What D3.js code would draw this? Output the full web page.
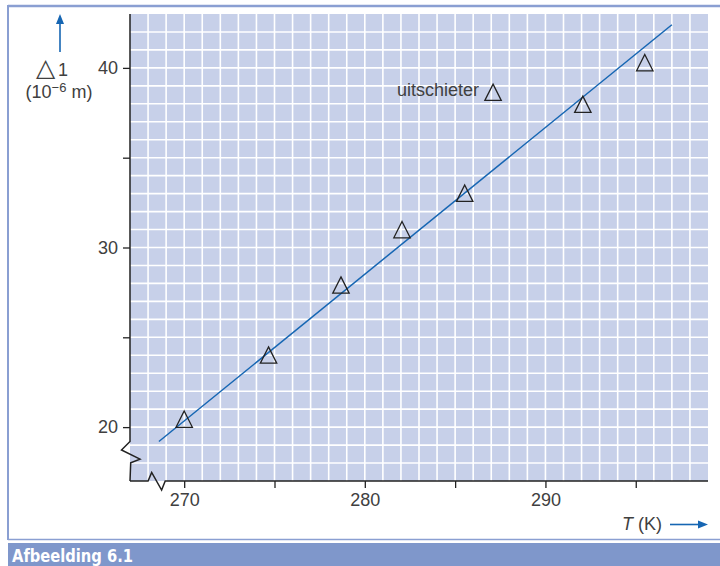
<!DOCTYPE html>
<html>
<head>
<meta charset="utf-8">
<script src="https://cdnjs.cloudflare.com/ajax/libs/d3/7.8.5/d3.min.js"></script>
<style>
  body { margin: 0; background: #fff; }
  text { font-family: "Liberation Sans", Arial, sans-serif; }
</style>
</head>
<body>
<div id="chart"></div>
<script>
// measured points: temperature (K) and length change (10^-6 m)
var temps   = [270.0, 274.67, 278.68, 282.06, 285.53, 292.07, 295.5];
var lengths = [20.3, 23.87, 27.77, 30.85, 32.88, 37.83, 40.15];
// the outlier ("uitschieter")
var outlierT = [287.1];
var outlierL = [38.5];
// fitted straight line, start and end
var fitT = [268.6, 297.0];
var fitL = [19.2, 42.4];
// ticks
var xTicks  = [270, 275, 280, 285, 290, 295];
var xLabels = [270, 280, 290];
var yTicks  = [20, 25, 30, 35, 40];
var yLabels = [20, 30, 40];
var xGrid = d3.range(268, 299, 1);
var yGrid = d3.range(18, 43, 1);

var W = 720, H = 566;
var frameBlue = "#8a9fd2", arrowBlue = "#1666b3", ink = "#404040";

var svg = d3.select("#chart").append("svg")
  .attr("width", W).attr("height", H);

var x = d3.scaleLinear().domain([267, 299]).range([130, 708]);
var y = d3.scaleLinear().domain([17, 43]).range([481, 14]);

// frame round the figure
svg.append("line").attr("x1", 8).attr("x2", W).attr("y1", 6).attr("y2", 6)
  .attr("stroke", frameBlue).attr("stroke-width", 2.5);
svg.append("line").attr("x1", 8).attr("x2", 8).attr("y1", 5).attr("y2", 540)
  .attr("stroke", frameBlue).attr("stroke-width", 2);
svg.append("line").attr("x1", 8).attr("x2", W).attr("y1", 539.5).attr("y2", 539.5)
  .attr("stroke", frameBlue).attr("stroke-width", 1.5);
svg.append("rect").attr("x", 8).attr("y", 543).attr("width", W - 8).attr("height", H - 543)
  .attr("fill", "#7f97cb");
svg.append("text")
  .attr("x", 12).attr("y", 562)
  .style("font-family", "'DejaVu Sans Condensed', 'DejaVu Sans', sans-serif")
  .style("font-stretch", "condensed")
  .style("font-weight", "bold")
  .style("font-size", "17px")
  .attr("textLength", 121).attr("lengthAdjust", "spacingAndGlyphs")
  .attr("fill", "#fff")
  .text("Afbeelding 6.1");

// plot background and grid
svg.append("rect")
  .attr("x", x(267)).attr("y", y(43))
  .attr("width", x(299) - x(267)).attr("height", y(17) - y(43))
  .attr("fill", "#c7d0e9");

svg.append("g").selectAll("line").data(xGrid).enter().append("line")
  .attr("x1", function (d) { return x(d); }).attr("x2", function (d) { return x(d); })
  .attr("y1", y(43)).attr("y2", y(17))
  .attr("stroke", "#fff").attr("stroke-width", 1.6);
svg.append("g").selectAll("line").data(yGrid).enter().append("line")
  .attr("x1", x(267)).attr("x2", x(299))
  .attr("y1", function (d) { return y(d); }).attr("y2", function (d) { return y(d); })
  .attr("stroke", "#fff").attr("stroke-width", 1.6);

// axes (ticks from d3, axis lines drawn with the break marks)
var xAxis = svg.append("g")
  .attr("transform", "translate(0," + y(17) + ")")
  .call(d3.axisBottom(x).tickValues(xTicks).tickSize(7).tickPadding(5)
    .tickFormat(function (d) { return xLabels.indexOf(d) >= 0 ? d : ""; }));
var yAxis = svg.append("g")
  .attr("transform", "translate(" + x(267) + ",0)")
  .call(d3.axisLeft(y).tickValues(yTicks).tickSize(7).tickPadding(5)
    .tickFormat(function (d) { return yLabels.indexOf(d) >= 0 ? d : ""; }));
[xAxis, yAxis].forEach(function (g) {
  g.select(".domain").remove();
  g.selectAll(".tick line").attr("stroke", "#222").attr("stroke-width", 1.3);
  g.selectAll(".tick text")
    .style("font-family", "'Liberation Sans', Arial, sans-serif")
    .style("font-size", "18px").attr("fill", ink);
});

// y axis line with zigzag break
var x0 = x(267), yb = y(17);
var yAxisPath = [
  [x0, y(43)], [x0, y(19.2)], [x0 - 8.5, y(18.73)], [x0 + 10, y(18.22)],
  [x0 + 0.7, y(18.02)], [x0, yb]
];
svg.append("path").attr("d", d3.line()(yAxisPath))
  .attr("fill", "none").attr("stroke", "#222").attr("stroke-width", 1.5);

// x axis line with zigzag break
var xAxisPath = [
  [x0, yb], [x(268.0), yb], [x(268.2), yb - 8.5], [x(268.75), yb + 9], [x(268.95), yb], [x(299), yb]
];
svg.append("path").attr("d", d3.line()(xAxisPath))
  .attr("fill", "none").attr("stroke", "#222").attr("stroke-width", 1.5);

// fitted line
svg.append("path")
  .datum(d3.zip(fitT, fitL))
  .attr("d", d3.line().x(function (d) { return x(d[0]); }).y(function (d) { return y(d[1]); }))
  .attr("fill", "none").attr("stroke", arrowBlue).attr("stroke-width", 1.5);

// triangle markers
var tri = "M0,-10.7L8.2,5.6L-8.2,5.6Z";
var pts = d3.zip(temps, lengths).concat(d3.zip(outlierT, outlierL));
svg.append("g").selectAll("path").data(pts).enter().append("path")
  .attr("d", tri)
  .attr("transform", function (d) { return "translate(" + x(d[0]) + "," + y(d[1]) + ")"; })
  .attr("fill", "none").attr("stroke", "#222").attr("stroke-width", 1.3)
  .attr("stroke-linejoin", "miter");

// outlier label
svg.append("text")
  .attr("x", x(outlierT[0]) - 14).attr("y", y(outlierL[0]) + 1.5)
  .attr("text-anchor", "end")
  .style("font-size", "18px").attr("fill", ink)
  .text("uitschieter");

// y axis title with arrow
svg.append("line").attr("x1", 60).attr("x2", 60).attr("y1", 52).attr("y2", 22)
  .attr("stroke", arrowBlue).attr("stroke-width", 1.6);
svg.append("path").attr("d", "M60,14L64,24L56,24Z").attr("fill", arrowBlue);
var dl = svg.append("text").attr("x", 52).attr("y", 76).attr("text-anchor", "middle")
  .style("font-size", "18px").attr("fill", ink);
dl.append("tspan").style("font-family", "'DejaVu Sans', sans-serif")
  .style("font-size", "25px").text("\u25B3");
dl.append("tspan").attr("dx", 3).text("1");
var unit = svg.append("text").attr("x", 59).attr("y", 98).attr("text-anchor", "middle")
  .style("font-size", "18px").attr("fill", ink);
unit.append("tspan").text("(10");
unit.append("tspan").attr("dy", -6).style("font-size", "13px").text("\u22126");
unit.append("tspan").attr("dy", 6).text(" m)");

// x axis title with arrow
var xt = svg.append("text").attr("x", 662).attr("y", 530).attr("text-anchor", "end")
  .style("font-size", "18px").attr("fill", ink);
xt.append("tspan").style("font-style", "italic").text("T");
xt.append("tspan").text(" (K)");
svg.append("line").attr("x1", 670).attr("x2", 700).attr("y1", 524.5).attr("y2", 524.5)
  .attr("stroke", arrowBlue).attr("stroke-width", 1.6);
svg.append("path").attr("d", "M708,524.5L698,520.5L698,528.5Z").attr("fill", arrowBlue);
</script>
</body>
</html>
